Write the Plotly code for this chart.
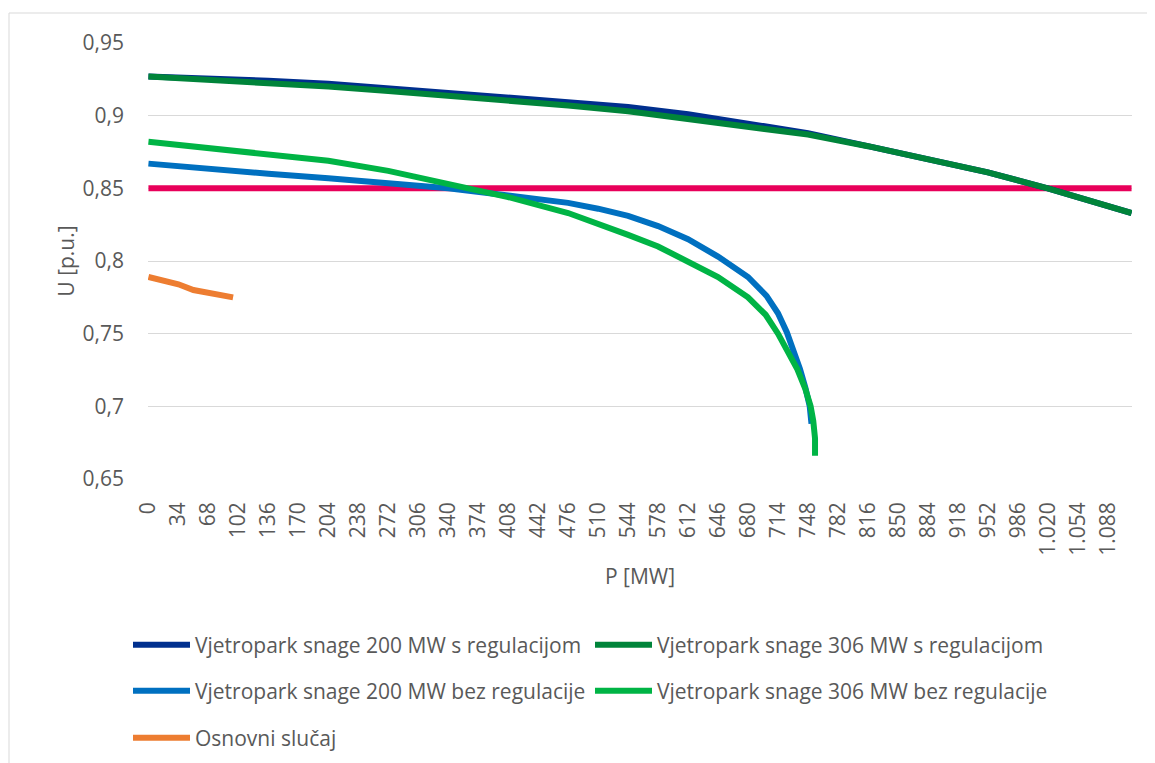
import plotly.graph_objects as go

# ---------------- data ----------------
P_ref = [0, 1115]
U_ref = [0.85, 0.85]

P_reg = [0, 68, 136, 204, 272, 340, 408, 476, 544, 612, 680, 748, 816, 884, 952, 1020, 1088, 1115]
U_200_reg = [0.927, 0.926, 0.924, 0.922, 0.919, 0.916, 0.913, 0.910, 0.906, 0.901, 0.895, 0.888,
             0.879, 0.870, 0.861, 0.850, 0.838, 0.833]
U_306_reg = [0.927, 0.925, 0.923, 0.920, 0.917, 0.914, 0.911, 0.907, 0.903, 0.898, 0.893, 0.887,
             0.879, 0.870, 0.861, 0.850, 0.838, 0.833]

P_200_bez = [0, 68, 136, 204, 272, 340, 408, 476, 510, 544, 578, 612, 646, 680, 701, 714, 724, 732, 739, 745, 750, 752]
U_200_bez = [0.867, 0.863, 0.860, 0.857, 0.854, 0.850, 0.845, 0.840, 0.836, 0.831, 0.824, 0.815, 0.803,
             0.789, 0.776, 0.764, 0.751, 0.738, 0.7255, 0.713, 0.700, 0.688]

P_306_bez = [0, 68, 136, 204, 272, 340, 408, 476, 510, 544, 578, 612, 646, 680, 700, 714, 726, 736, 745, 751, 754, 756, 756]
U_306_bez = [0.882, 0.878, 0.874, 0.869, 0.862, 0.853, 0.844, 0.833, 0.826, 0.818, 0.810, 0.800, 0.789,
             0.775, 0.763, 0.750, 0.737, 0.7255, 0.712, 0.700, 0.690, 0.678, 0.666]

P_base = [0, 17, 34, 51, 68, 85, 96]
U_base = [0.789, 0.787, 0.784, 0.780, 0.778, 0.777, 0.775]

x_ticks = list(range(0, 1089, 34))
y_ticks = [0.65, 0.70, 0.75, 0.80, 0.85, 0.90, 0.95]

names = ["Vjetropark snage 200 MW s regulacijom",
         "Vjetropark snage 306 MW s regulacijom",
         "Vjetropark snage 200 MW bez regulacije",
         "Vjetropark snage 306 MW bez regulacije",
         "Osnovni slučaj"]

# ---------------- styling ----------------
FONT = "Open Sans"
TXT = "#595959"
FS = 21
LW = 6

C_RED = "#E8005A"
C_DBLUE = "#002F8E"
C_DGREEN = "#00843A"
C_BLUE = "#0070C0"
C_GREEN = "#00B445"
C_ORANGE = "#ED7D31"

fig = go.Figure()
fig.add_trace(go.Scatter(x=P_ref, y=U_ref, mode="lines", line=dict(color=C_RED, width=LW),
                         showlegend=False, hoverinfo="skip"))
fig.add_trace(go.Scatter(x=P_reg, y=U_200_reg, mode="lines", name=names[0],
                         line=dict(color=C_DBLUE, width=LW), legend="legend"))
fig.add_trace(go.Scatter(x=P_reg, y=U_306_reg, mode="lines", name=names[1],
                         line=dict(color=C_DGREEN, width=LW), legend="legend2"))
fig.add_trace(go.Scatter(x=P_200_bez, y=U_200_bez, mode="lines", name=names[2],
                         line=dict(color=C_BLUE, width=LW), legend="legend3"))
fig.add_trace(go.Scatter(x=P_306_bez, y=U_306_bez, mode="lines", name=names[3],
                         line=dict(color=C_GREEN, width=LW), legend="legend4"))
fig.add_trace(go.Scatter(x=P_base, y=U_base, mode="lines", name=names[4],
                         line=dict(color=C_ORANGE, width=LW), legend="legend5"))

# page body has an 8px margin -> work in screen pixels, shift by it
OFF = 8
W, H = 1155 - 2 * OFF, 763 - OFF
PL, PR, PT, PB = 148, 1132, 43, 479          # plot area in screen pixels
L, R, T, B = PL - OFF, (OFF + W) - PR, PT - OFF, (OFF + H) - PB
pw, ph = W - L - R, H - T - B


def px_x(px):
    return (px - PL) / pw


def px_y(py):
    return (PB - py) / ph


def leg(px, py):
    return dict(x=px_x(px), y=px_y(py), xanchor="left", yanchor="middle",
                orientation="h", itemwidth=57, bgcolor="rgba(0,0,0,0)",
                font=dict(family=FONT, size=FS, color=TXT))


fig.update_layout(
    width=W, height=H,
    margin=dict(l=L, r=R, t=T, b=B, autoexpand=False),
    paper_bgcolor="white", plot_bgcolor="white",
    separators=",.",
    font=dict(family=FONT, size=FS, color=TXT),
    legend=leg(128, 645),
    legend2=leg(590, 645),
    legend3=leg(128, 691),
    legend4=leg(590, 691),
    legend5=leg(128, 738),
    xaxis=dict(range=[-0.5, 1115.5], tickmode="array", tickvals=x_ticks,
               tickformat=",d", tickangle=-90, showgrid=False, zeroline=False,
               showline=False, ticks="", ticklabelstandoff=18, automargin=False,
               tickfont=dict(family=FONT, size=FS, color=TXT),
               title=dict(text="P [MW]", standoff=14,
                          font=dict(family=FONT, size=FS, color=TXT))),
    yaxis=dict(range=[0.65, 0.95], tickmode="array", tickvals=y_ticks,
               showgrid=True, gridcolor="#D9D9D9", gridwidth=1, zeroline=False,
               showline=False, ticks="", ticklabelstandoff=23, automargin=False,
               tickfont=dict(family=FONT, size=FS, color=TXT),
               title=dict(text="U [p.u.]", standoff=2,
                          font=dict(family=FONT, size=FS, color=TXT))),
    shapes=[dict(type="rect", xref="paper", yref="paper",
                 x0=px_x(9), x1=px_x(1152), y0=px_y(790), y1=px_y(13),
                 line=dict(color="#D9D9D9", width=1), layer="below")],
)

fig.write_html("out.html")
